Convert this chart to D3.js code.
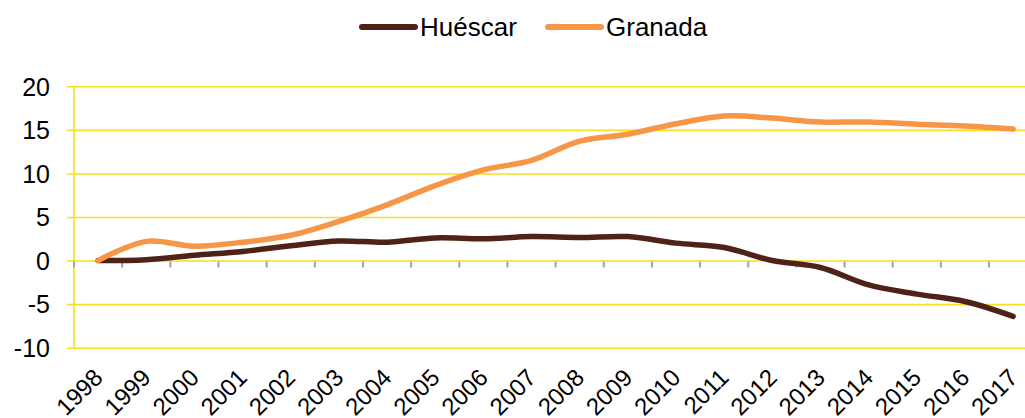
<!DOCTYPE html>
<html>
<head>
<meta charset="utf-8">
<script src="https://cdn.jsdelivr.net/npm/d3@7"></script>
<style>
  body { margin: 0; background: #fff; overflow: hidden; }
  svg { display: block; font-family: "Liberation Sans", Arial, sans-serif; }
</style>
</head>
<body>
<div id="chart"></div>
<script>
// DATA
const years = ['1998','1999','2000','2001','2002','2003','2004','2005','2006','2007',
               '2008','2009','2010','2011','2012','2013','2014','2015','2016','2017'];
const huescar = [0, 0.1, 0.6, 1.05, 1.7, 2.25, 2.1, 2.6, 2.5, 2.75,
                 2.65, 2.75, 2.0, 1.5, 0.0, -0.8, -2.8, -3.85, -4.7, -6.4];
const granada = [0, 2.2, 1.65, 2.1, 2.9, 4.5, 6.4, 8.6, 10.4, 11.5,
                 13.7, 14.5, 15.7, 16.6, 16.35, 15.9, 15.9, 15.65, 15.45, 15.1];
const yTicks = [-10, -5, 0, 5, 10, 15, 20];

const series = [
  { name: 'Huéscar', values: huescar, color: '#4f2219' },
  { name: 'Granada', values: granada, color: '#f79646' }
];

// GLOBALS AND CONSTANTS
const width = 1025;
const height = 418;
const plotLeft = 74;
const step = 48.16;

const svg = d3.select('#chart').append('svg')
  .attr('width', width)
  .attr('height', height);

const x = d3.scaleBand()
  .domain(years)
  .range([plotLeft, plotLeft + step * years.length])
  .padding(0);

const y = d3.scaleLinear()
  .domain([-10, 20])
  .range([347.7, 86.3]);

// GRIDLINES + Y AXIS
const yAxis = svg.append('g')
  .attr('transform', `translate(${plotLeft},0)`)
  .call(d3.axisLeft(y).tickValues(yTicks).tickSize(-(width - plotLeft)).tickPadding(0).tickFormat(d3.format('d')));
yAxis.select('.domain').remove();
yAxis.selectAll('.tick line')
  .attr('x1', -7)
  .attr('stroke', '#f5df1e')
  .attr('stroke-width', 1.6);
yAxis.selectAll('.tick text')
  .attr('x', -24)
  .attr('dy', '0.35em')
  .style('font-size', '25px')
  .style('font-family', '"Liberation Sans", Arial, sans-serif')
  .attr('fill', '#000')
  .text(d => d < 0 ? '-' + Math.abs(d) : d);

// vertical axis line
svg.append('line')
  .attr('x1', plotLeft).attr('x2', plotLeft)
  .attr('y1', y(20)).attr('y2', y(-10))
  .attr('stroke', '#f5df1e')
  .attr('stroke-width', 1.6);

// X TICK MARKS ON ZERO LINE
const tickPos = d3.range(years.length).map(i => plotLeft + i * x.bandwidth());
svg.append('g').selectAll('line')
  .data(tickPos)
  .join('line')
  .attr('x1', d => d).attr('x2', d => d)
  .attr('y1', y(0) + 1).attr('y2', y(0) + 7)
  .attr('stroke', '#a3a3a3')
  .attr('stroke-width', 2);

// X LABELS
svg.append('g').selectAll('text')
  .data(years)
  .join('text')
  .attr('transform', d => `translate(${x(d) + x.bandwidth() / 2 + 6},379) rotate(-45)`)
  .attr('text-anchor', 'end')
  .style('font-size', '24px')
  .attr('fill', '#000')
  .text(d => d);

// LINES
const line = d3.line()
  .x((d, i) => x(years[i]) + x.bandwidth() / 2)
  .y(d => y(d))
  .curve(d3.curveCatmullRom.alpha(0.5));

svg.append('g').selectAll('path')
  .data(series)
  .join('path')
  .attr('d', d => line(d.values))
  .attr('fill', 'none')
  .attr('stroke', d => d.color)
  .attr('stroke-width', 5.5)
  .attr('stroke-linecap', 'round')
  .attr('stroke-linejoin', 'round');

// LEGEND
const legendX = [362, 548];
const legend = svg.append('g').selectAll('g')
  .data(series)
  .join('g')
  .attr('transform', (d, i) => `translate(${legendX[i]},27)`);
legend.append('line')
  .attr('x1', 0).attr('x2', 53)
  .attr('stroke', d => d.color)
  .attr('stroke-width', 6)
  .attr('stroke-linecap', 'round');
legend.append('text')
  .attr('x', 58)
  .attr('dy', '0.35em')
  .style('font-size', '26px')
  .attr('fill', '#000')
  .text(d => d.name);
</script>
</body>
</html>
